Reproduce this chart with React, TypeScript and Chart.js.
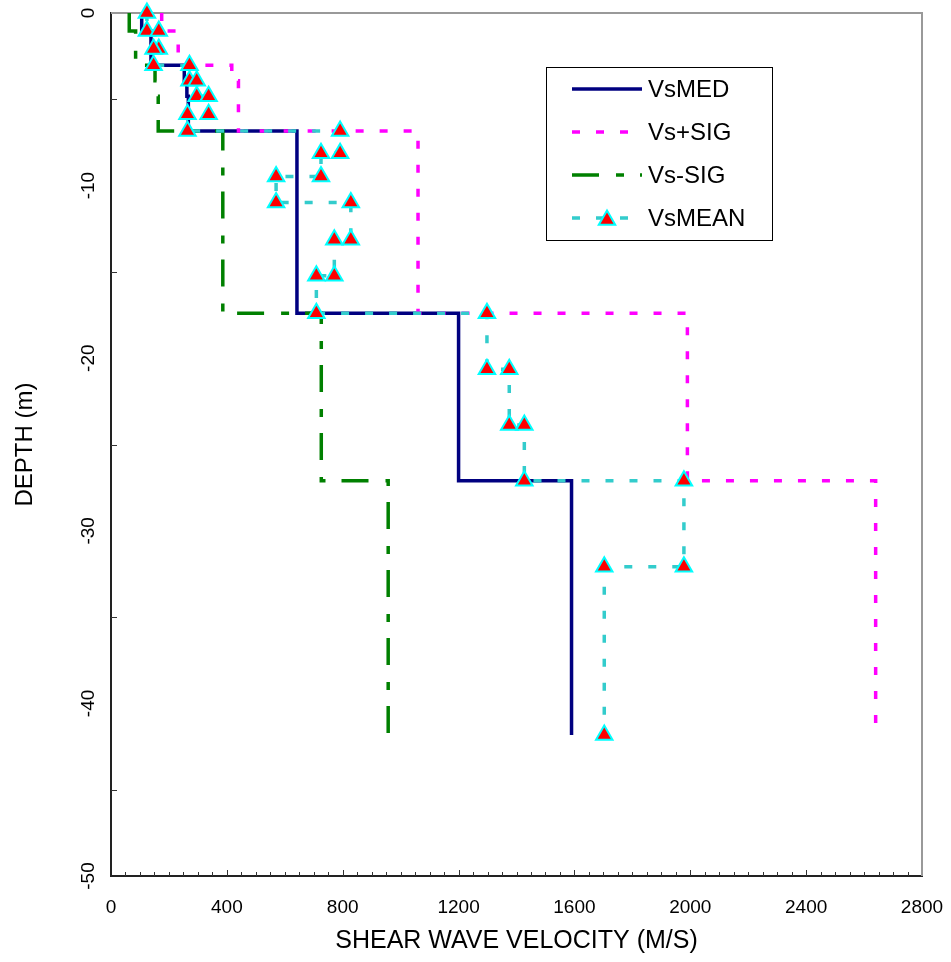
import React, { useEffect, useRef } from 'react';
import { Chart, registerables } from 'chart.js';

Chart.register(...registerables);

// ---------- data ----------
const SERIES_NAMES = ['VsMED', 'Vs+SIG', 'Vs-SIG', 'VsMEAN'];
const X_TITLE = 'SHEAR WAVE VELOCITY (M/S)';
const Y_TITLE = 'DEPTH (m)';

// layer tops (m below surface) for the median and +/- sigma profiles
const PROFILE_TOPS = [0, 1.05, 3.03, 3.92, 4.83, 6.84, 17.39, 27.1];
const PROFILE_BOTTOM = 41.83;
const VS_MED = [106, 138, 253, 262, 267, 642, 1200, 1590];
const VS_PLUS_SIG = [175, 232, 417, 440, 440, 1060, 1990, 2640];
const VS_MINUS_SIG = [63, 85, 152, 158, 163, 386, 726, 957];

// layer tops for the mean profile
const MEAN_TOPS = [0, 1.05, 2.08, 3.03, 3.92, 4.83, 5.86, 6.84, 8.12, 9.47, 10.98, 13.14, 15.23, 17.39, 20.64, 23.87, 27.1, 32.08];
const MEAN_BOTTOM = 41.83;
const VS_MEAN = [124, 165, 147, 271, 296, 337, 264, 791, 725, 570, 828, 771, 709, 1298, 1375, 1427, 1978, 1703];

const X_MIN = 0;
const X_MAX = 2800;
const X_STEP = 400;
const X_MINOR = 50;
const Y_MIN = -50;
const Y_MAX = 0;
const Y_STEP = 10;
const Y_MINOR = 5;

// ---------- helpers ----------
function stepPoints(tops: number[], bottom: number, values: number[]) {
  const pts: { x: number; y: number }[] = [];
  values.forEach((v, i) => {
    const b = i + 1 < tops.length ? tops[i + 1] : bottom;
    pts.push({ x: v, y: -tops[i] }, { x: v, y: -b });
  });
  return pts;
}

const FONT = '"Liberation Sans", Arial, sans-serif';

function drawTriangle(ctx: CanvasRenderingContext2D, x: number, y: number, r: number, fill: string, stroke: string, lw: number) {
  ctx.beginPath();
  let rad = 0;
  ctx.moveTo(x + Math.sin(rad) * r, y - Math.cos(rad) * r);
  rad += (2 * Math.PI) / 3;
  ctx.lineTo(x + Math.sin(rad) * r, y - Math.cos(rad) * r);
  rad += (2 * Math.PI) / 3;
  ctx.lineTo(x + Math.sin(rad) * r, y - Math.cos(rad) * r);
  ctx.closePath();
  ctx.fillStyle = fill;
  ctx.fill();
  ctx.strokeStyle = stroke;
  ctx.lineWidth = lw;
  ctx.stroke();
}

const framePlugin = {
  id: 'frameTicks',
  beforeDatasetsDraw(chart: any) {
    const { ctx, chartArea: a, scales } = chart;
    ctx.save();
    ctx.strokeStyle = '#999';
    ctx.lineWidth = 2;
    ctx.beginPath();
    ctx.moveTo(a.left, a.top);
    ctx.lineTo(a.right, a.top);
    ctx.lineTo(a.right, a.bottom);
    ctx.stroke();
    ctx.strokeStyle = '#333';
    ctx.lineWidth = 1;
    for (let v = X_MIN + X_MINOR; v < X_MAX; v += X_MINOR) {
      const px = Math.round(scales.x.getPixelForValue(v)) + 0.5;
      const len = v % X_STEP === 0 ? 6 : 4;
      ctx.beginPath();
      ctx.moveTo(px, a.bottom);
      ctx.lineTo(px, a.bottom - len);
      ctx.stroke();
    }
    for (let d = Y_MAX - Y_MINOR; d > Y_MIN; d -= Y_MINOR) {
      if (d % Y_STEP === 0) continue;
      const py = Math.round(scales.y.getPixelForValue(d)) + 0.5;
      ctx.beginPath();
      ctx.moveTo(a.left, py);
      ctx.lineTo(a.left + 6, py);
      ctx.stroke();
    }
    ctx.restore();
  },
  afterDraw(chart: any) {
    const { ctx } = chart;
    const box = { x: 546, y: 67, w: 226, h: 173 };
    const rows = [89, 132, 175, 218];
    ctx.save();
    ctx.fillStyle = '#fff';
    ctx.fillRect(box.x, box.y, box.w, box.h);
    ctx.strokeStyle = '#000';
    ctx.lineWidth = 1;
    ctx.strokeRect(box.x + 0.5, box.y + 0.5, box.w, box.h);
    chart.data.datasets.forEach((ds: any, i: number) => {
      const y = rows[i];
      ctx.save();
      ctx.strokeStyle = ds.borderColor;
      ctx.lineWidth = ds.borderWidth;
      ctx.lineCap = 'butt';
      ctx.setLineDash(ds.borderDash || []);
      ctx.beginPath();
      ctx.moveTo(572, y);
      ctx.lineTo(642, y);
      ctx.stroke();
      ctx.restore();
      if (ds.pointRadius > 0) {
        drawTriangle(ctx, 607, y + 2, ds.pointRadius, ds.pointBackgroundColor, ds.pointBorderColor, ds.pointBorderWidth);
      }
      ctx.fillStyle = '#000';
      ctx.font = '24px ' + FONT;
      ctx.textBaseline = 'middle';
      ctx.textAlign = 'left';
      ctx.fillText(ds.label, 648, y + 1);
    });
    ctx.restore();
  },
};

export default function App() {
  const ref = useRef<HTMLCanvasElement>(null);

  useEffect(() => {
    const canvas = ref.current;
    if (!canvas) return;
    const chart = new Chart(canvas, {
      type: 'scatter',
      data: {
        datasets: [
          {
            label: SERIES_NAMES[0],
            data: stepPoints(PROFILE_TOPS, PROFILE_BOTTOM, VS_MED),
            showLine: true,
            borderColor: '#000080',
            borderWidth: 3.5,
            pointRadius: 0,
            order: 4,
          },
          {
            label: SERIES_NAMES[1],
            data: stepPoints(PROFILE_TOPS, PROFILE_BOTTOM, VS_PLUS_SIG),
            showLine: true,
            borderColor: '#FF00FF',
            borderWidth: 3.5,
            borderDash: [8, 16],
            pointRadius: 0,
            order: 3,
          },
          {
            label: SERIES_NAMES[2],
            data: stepPoints(PROFILE_TOPS, PROFILE_BOTTOM, VS_MINUS_SIG),
            showLine: true,
            borderColor: '#008000',
            borderWidth: 3.5,
            borderDash: [27, 17, 8, 16],
            pointRadius: 0,
            order: 2,
          },
          {
            label: SERIES_NAMES[3],
            data: stepPoints(MEAN_TOPS, MEAN_BOTTOM, VS_MEAN),
            showLine: true,
            borderColor: '#33CCCC',
            borderWidth: 3.5,
            borderDash: [8, 16],
            pointStyle: 'triangle',
            pointRadius: 9.5,
            pointBackgroundColor: '#FF0000',
            pointBorderColor: '#00FFFF',
            pointBorderWidth: 2,
            clip: false,
            order: 1,
          },
        ] as any,
      },
      options: {
        animation: false,
        responsive: false,
        devicePixelRatio: 1,
        events: [],
        layout: { padding: { left: 0, top: 13, right: 29, bottom: 0 } },
        plugins: { legend: { display: false }, tooltip: { enabled: false } },
        elements: { line: { tension: 0 } },
        scales: {
          x: {
            type: 'linear',
            min: X_MIN,
            max: X_MAX,
            grid: { display: false },
            border: { display: true, color: '#222', width: 2 },
            ticks: {
              stepSize: X_STEP,
              color: '#000',
              padding: 12,
              maxRotation: 0,
              font: { family: FONT, size: 19 },
              callback: (v: any) => String(v),
            },
            title: {
              display: true,
              text: X_TITLE,
              color: '#000',
              font: { family: FONT, size: 25 },
              padding: { top: 0, bottom: 6 },
            },
            afterFit(scale: any) {
              scale.height = 86;
              scale.paddingLeft = 0;
              scale.paddingRight = 0;
            },
          },
          y: {
            type: 'linear',
            min: Y_MIN,
            max: Y_MAX,
            grid: { display: false },
            border: { display: true, color: '#222', width: 2 },
            ticks: {
              stepSize: Y_STEP,
              color: '#000',
              padding: 1,
              minRotation: 90,
              maxRotation: 90,
              crossAlign: 'center',
              font: { family: FONT, size: 19 },
              callback: (v: any) => String(v),
            },
            title: {
              display: true,
              text: Y_TITLE,
              color: '#000',
              font: { family: FONT, size: 24 },
              padding: { top: 11, bottom: 0 },
            },
            afterFit(scale: any) {
              scale.width = 111;
              scale.paddingTop = 0;
              scale.paddingBottom = 0;
            },
          },
        },
      } as any,
      plugins: [framePlugin],
    });
    return () => chart.destroy();
  }, []);

  return (
    <div style={{ position: 'absolute', left: 0, top: 0, width: 951, height: 962, background: '#fff' }}>
      <canvas ref={ref} width={951} height={962} style={{ display: 'block', width: 951, height: 962 }} />
    </div>
  );
}
